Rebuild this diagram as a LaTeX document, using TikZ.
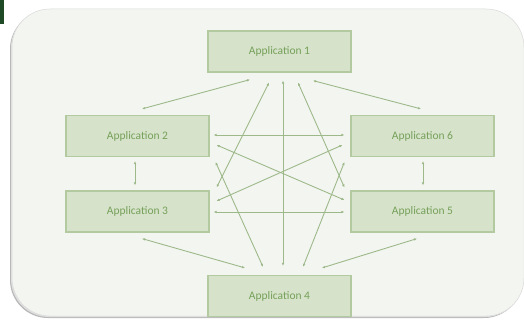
\documentclass[tikz,border=0pt]{standalone}
\usepackage{fontspec}
\setmainfont{Carlito}
\usetikzlibrary{arrows.meta}
\definecolor{panelbg}{HTML}{F3F5F0}
\definecolor{boxfill}{HTML}{D6E3CA}
\definecolor{boxline}{HTML}{B3C9A0}
\definecolor{boxtext}{HTML}{76A05A}
\definecolor{linkcol}{HTML}{9DB98A}
\definecolor{tabgreen}{HTML}{1E4A26}
\tikzset{
  appbox/.style={draw=boxline, line width=1.2pt, fill=boxfill, minimum width=143pt,
    minimum height=41pt, inner sep=0pt, text=boxtext, font=\fontsize{11.5}{13}\selectfont},
  link/.style={draw=linkcol, line width=0.9pt,
    {Latex[length=3pt,width=2.6pt]}-{Latex[length=3pt,width=2.6pt]}}
}
\begin{document}
\begin{tikzpicture}[x=1pt,y=-1pt]
  \useasboundingbox (0,0) rectangle (524,320);
  \fill[white] (0,0) rectangle (524,320);
  % corner tab
  \fill[tabgreen] (0,0) rectangle (4,24);
  % panel with soft shadow
  \fill[black!28, rounded corners=38pt] (10,11) rectangle (522,318);
  \fill[black!12, rounded corners=38pt] (11,10) rectangle (523,317);
  \fill[panelbg, draw=black!15, line width=0.5pt, rounded corners=38pt] (12,9) rectangle (524,316);

  % application boxes
  \node[appbox] (a1) at (279.5,51.5)  {Application 1};
  \node[appbox] (a2) at (137.5,136)   {Application 2};
  \node[appbox] (a6) at (422.5,136)   {Application 6};
  \node[appbox] (a3) at (137.5,211.5) {Application 3};
  \node[appbox] (a5) at (422.5,211.5) {Application 5};
  \node[appbox] (a4) at (279.5,296)   {Application 4};

  % links from Application 1
  \draw[link] ([shift={(-29.5,7)}]a1.south) -- ([shift={(4.5,-6)}]a2.north);
  \draw[link] ([shift={(33.5,8)}]a1.south) -- ([shift={(-1.5,-6)}]a6.north);
  \draw[link] ([shift={(-10.5,10)}]a1.south) -- ([shift={(7,-3)}]a3.north east);
  \draw[link] ([shift={(3.5,8)}]a1.south) -- ([shift={(3.5,-9)}]a4.north);
  \draw[link] ([shift={(18.5,10)}]a1.south) -- ([shift={(-6,-3)}]a5.north west);

  % links across the middle
  \draw[link] ([shift={(4,-1)}]a2.east) -- ([shift={(-6,-1)}]a6.west);
  \draw[link] ([shift={(7,9)}]a2.east) -- ([shift={(-6,-11.5)}]a5.west);
  \draw[link] ([shift={(-8,9)}]a6.west) -- ([shift={(7,-10.5)}]a3.east);
  \draw[link] ([shift={(4,0.5)}]a3.east) -- ([shift={(-6,0.5)}]a5.west);

  % vertical links on the sides
  \draw[link] ([shift={(-2.5,4)}]a2.south) -- ([shift={(-2.5,-5)}]a3.north);
  \draw[link] ([shift={(0.5,4)}]a6.south) -- ([shift={(0.5,-5)}]a5.north);

  % links to Application 4
  \draw[link] ([shift={(6,5)}]a2.south east) -- ([shift={(-16.5,-8)}]a4.north);
  \draw[link] ([shift={(-6,5)}]a6.south west) -- ([shift={(23.5,-8)}]a4.north);
  \draw[link] ([shift={(4.5,6)}]a3.south) -- ([shift={(-34.5,-7)}]a4.north);
  \draw[link] ([shift={(-5.5,6)}]a5.south) -- ([shift={(42.5,-7)}]a4.north);
\end{tikzpicture}
\end{document}
